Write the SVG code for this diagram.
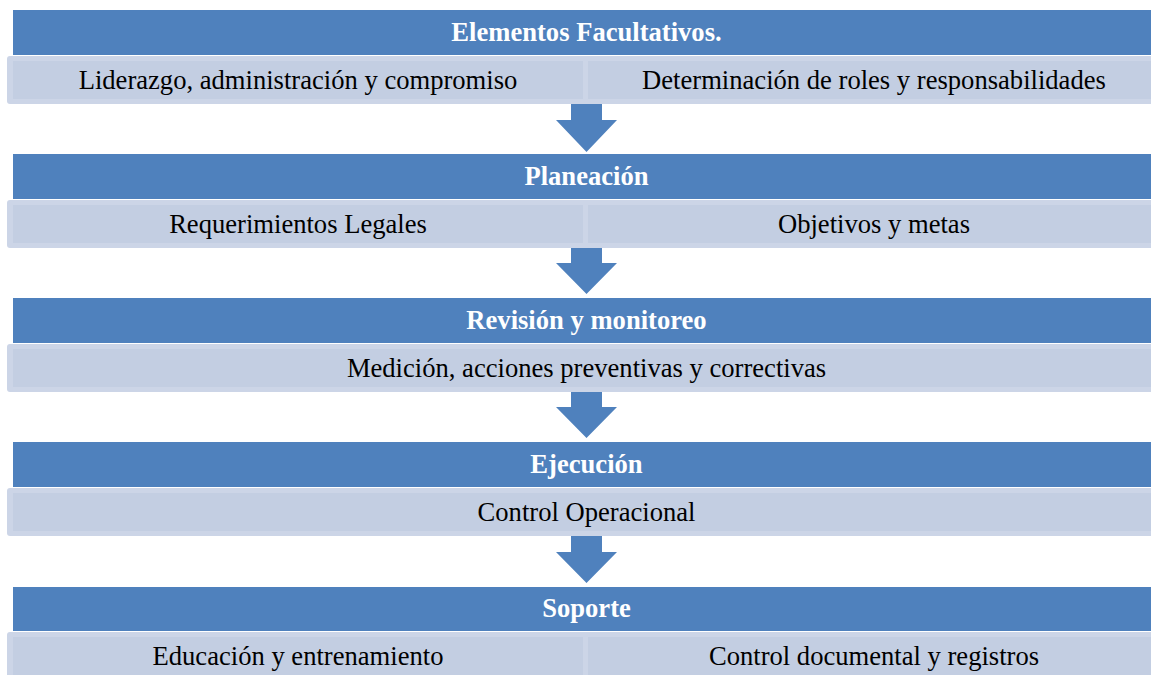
<svg xmlns="http://www.w3.org/2000/svg" width="1151" height="675" viewBox="0 0 1151 675">
<style>
.hdr{fill:#4f81bd}
.outer{fill:#ccd5e7}
.inner{fill:#c3cee2}
.arrow{fill:#4f81bd}
.ht{font-family:"Liberation Serif","Times New Roman",serif;font-size:26.6px;font-weight:bold;fill:#ffffff;text-anchor:middle}
.st{font-family:"Liberation Serif","Times New Roman",serif;font-size:26.6px;fill:#000000;text-anchor:middle}
</style>
<rect width="1151" height="675" fill="#ffffff"/>
<g id="connectors">
<polygon class="arrow" points="571,104 602,104 602,120 617,120 586.5,152 556,120 571,120"/>
<polygon class="arrow" points="571,248 602,248 602,263 617,263 586.5,294 556,263 571,263"/>
<polygon class="arrow" points="571,392 602,392 602,407 617,407 586.5,438 556,407 571,407"/>
<polygon class="arrow" points="571,536 602,536 602,552 617,552 586.5,583 556,552 571,552"/>
</g>
<g id="elementos">
<rect class="hdr" x="13" y="10" width="1150" height="45"/>
<text class="ht" x="586.5" y="41">Elementos Facultativos.</text>
</g>
<g id="elementos-sub">
<rect class="outer" x="7" y="56" width="1160" height="48" rx="3"/>
<rect class="inner" x="13" y="61" width="570" height="38"/>
<rect class="inner" x="588" y="61" width="575" height="38"/>
<text class="st" x="298" y="89">Liderazgo, administración y compromiso</text>
<text class="st" x="874" y="89">Determinación de roles y responsabilidades</text>
</g>
<g id="planeacion">
<rect class="hdr" x="13" y="154" width="1150" height="45"/>
<text class="ht" x="586.5" y="185">Planeación</text>
</g>
<g id="planeacion-sub">
<rect class="outer" x="7" y="200" width="1160" height="48" rx="3"/>
<rect class="inner" x="13" y="205" width="570" height="38"/>
<rect class="inner" x="588" y="205" width="575" height="38"/>
<text class="st" x="298" y="233">Requerimientos Legales</text>
<text class="st" x="874" y="233">Objetivos y metas</text>
</g>
<g id="revision">
<rect class="hdr" x="13" y="298" width="1150" height="45"/>
<text class="ht" x="586.5" y="329">Revisión y monitoreo</text>
</g>
<g id="revision-sub">
<rect class="outer" x="7" y="344" width="1160" height="48" rx="3"/>
<rect class="inner" x="13" y="349" width="1150" height="38"/>
<text class="st" x="586.5" y="377">Medición, acciones preventivas y correctivas</text>
</g>
<g id="ejecucion">
<rect class="hdr" x="13" y="442" width="1150" height="45"/>
<text class="ht" x="586.5" y="473">Ejecución</text>
</g>
<g id="ejecucion-sub">
<rect class="outer" x="7" y="488" width="1160" height="48" rx="3"/>
<rect class="inner" x="13" y="493" width="1150" height="38"/>
<text class="st" x="586.5" y="521">Control Operacional</text>
</g>
<g id="soporte">
<rect class="hdr" x="13" y="587" width="1150" height="44"/>
<text class="ht" x="586.5" y="617">Soporte</text>
</g>
<g id="soporte-sub">
<rect class="outer" x="7" y="632" width="1160" height="48" rx="3"/>
<rect class="inner" x="13" y="637" width="570" height="38"/>
<rect class="inner" x="588" y="637" width="575" height="38"/>
<text class="st" x="298" y="665">Educación y entrenamiento</text>
<text class="st" x="874" y="665">Control documental y registros</text>
</g>
</svg>
